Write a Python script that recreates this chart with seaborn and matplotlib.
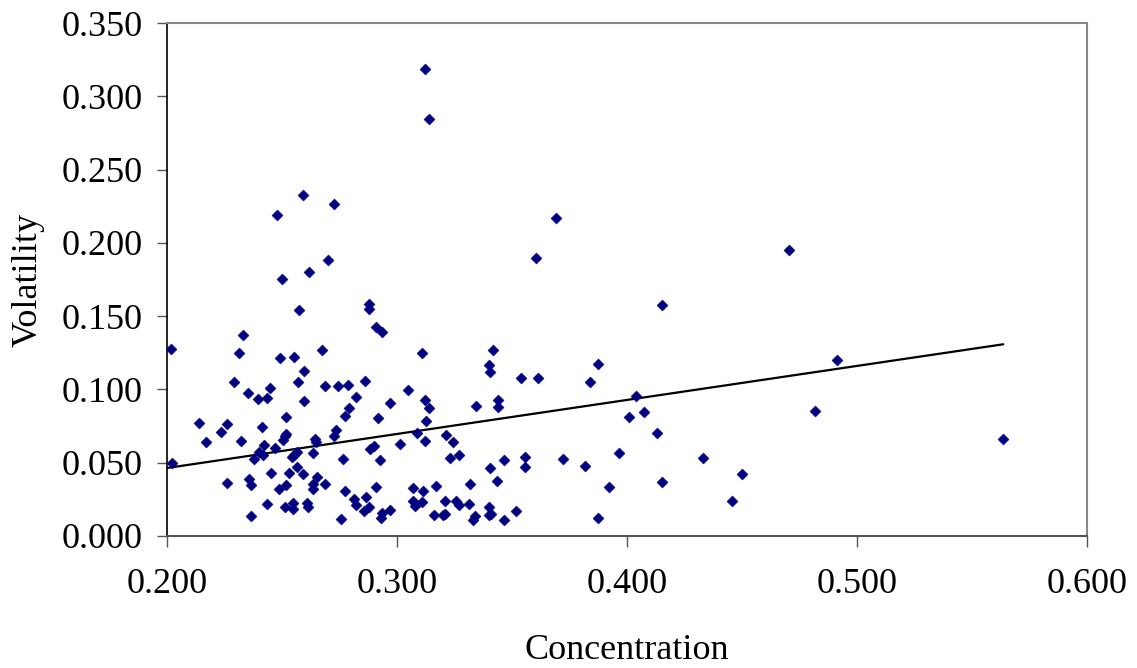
import matplotlib
matplotlib.use("Agg")
import matplotlib.pyplot as plt
import seaborn as sns
import numpy as np
import pandas as pd

# Data
concentration = [
    0.2501, 0.2619, 0.2575, 0.2880, 0.2880, 0.2910, 0.2933, 0.2332, 0.2019, 0.2314,
    0.2674, 0.2491, 0.2553, 0.2597, 0.2291, 0.2568, 0.2686, 0.2745, 0.2787, 0.2860,
    0.3049, 0.2449, 0.2352, 0.2396, 0.2436, 0.2596, 0.2822, 0.2968, 0.2790, 0.2774,
    0.2919, 0.2516, 0.2138, 0.2261, 0.2235, 0.2414, 0.2516, 0.2513, 0.2733, 0.2725,
    0.2171, 0.2320, 0.2503, 0.2645, 0.2647, 0.2423, 0.2468, 0.3014, 0.2399, 0.2416,
    0.2378, 0.2564, 0.2553, 0.2545, 0.2636, 0.2900, 0.2883, 0.2767, 0.2926, 0.2023,
    0.2565, 0.2453, 0.2532, 0.2593, 0.2653, 0.2260, 0.2358, 0.2364, 0.2516, 0.2488,
    0.2635, 0.2636, 0.2686, 0.2774, 0.2909, 0.2814, 0.2867, 0.2820, 0.2436, 0.2514,
    0.2549, 0.2547, 0.2609, 0.2612, 0.2858, 0.2878, 0.2933, 0.2932, 0.2968, 0.2367,
    0.2758,
    0.3109, 0.3419, 0.3399, 0.3406, 0.3539, 0.3614, 0.3874, 0.3840, 0.3123, 0.3138,
    0.3342, 0.3438, 0.3440, 0.3127, 0.4038, 0.4010, 0.4075, 0.3086, 0.3123, 0.3212,
    0.3243, 0.3230, 0.3271, 0.3467, 0.3558, 0.3557, 0.3403, 0.3720, 0.3819, 0.3965,
    0.3435, 0.3068, 0.3168, 0.3113, 0.3070, 0.3078, 0.3109, 0.3210, 0.3255, 0.3271,
    0.3312, 0.3316, 0.3160, 0.3199, 0.3207, 0.3332, 0.3340, 0.3400, 0.3399, 0.3409,
    0.3467, 0.3516, 0.3875, 0.3920,
    0.2593, 0.2478, 0.2727, 0.2701,
    0.3120, 0.3138, 0.3693, 0.3603,
    0.4151, 0.4704, 0.4912, 0.4816, 0.5636, 0.4132, 0.4329, 0.4151, 0.4499, 0.4457,
]
volatility = [
    0.1751, 0.1803, 0.1542, 0.1581, 0.1549, 0.1426, 0.1392, 0.1369, 0.1274, 0.1246,
    0.1267, 0.1214, 0.1221, 0.1128, 0.1053, 0.1053, 0.1021, 0.1021, 0.1028, 0.1058,
    0.0996, 0.1010, 0.0978, 0.0937, 0.0939, 0.0921, 0.0948, 0.0905, 0.0873, 0.0819,
    0.0805, 0.0812, 0.0771, 0.0764, 0.0712, 0.0742, 0.0698, 0.0684, 0.0723, 0.0680,
    0.0641, 0.0648, 0.0653, 0.0660, 0.0641, 0.0621, 0.0600, 0.0630, 0.0571, 0.0551,
    0.0527, 0.0571, 0.0551, 0.0541, 0.0568, 0.0614, 0.0596, 0.0527, 0.0516, 0.0496,
    0.0473, 0.0428, 0.0428, 0.0423, 0.0403, 0.0360, 0.0391, 0.0350, 0.0348, 0.0319,
    0.0357, 0.0321, 0.0357, 0.0305, 0.0334, 0.0250, 0.0268, 0.0209, 0.0216, 0.0200,
    0.0227, 0.0184, 0.0223, 0.0200, 0.0173, 0.0196, 0.0155, 0.0121, 0.0179, 0.0136,
    0.0116,
    0.1251, 0.1271, 0.1167, 0.1117, 0.1080, 0.1080, 0.1171, 0.1049, 0.0926, 0.0873,
    0.0885, 0.0928, 0.0882, 0.0783, 0.0955, 0.0814, 0.0846, 0.0701, 0.0646, 0.0691,
    0.0641, 0.0530, 0.0553, 0.0516, 0.0537, 0.0471, 0.0464, 0.0523, 0.0480, 0.0568,
    0.0375, 0.0325, 0.0343, 0.0305, 0.0237, 0.0205, 0.0230, 0.0241, 0.0239, 0.0214,
    0.0220, 0.0353, 0.0143, 0.0141, 0.0152, 0.0109, 0.0136, 0.0196, 0.0141, 0.0148,
    0.0107, 0.0171, 0.0125, 0.0334,
    0.2324, 0.2192, 0.2267, 0.1883,
    0.3188, 0.2843, 0.2168, 0.1897,
    0.1576, 0.1951, 0.1199, 0.0853, 0.0660, 0.0701, 0.0530, 0.0370, 0.0423, 0.0237,
]
# Trend line as drawn in the reference (end points)
trend_x = [0.2000, 0.5636]
trend_y = [0.0464, 0.1308]

x_ticks = [0.2, 0.3, 0.4, 0.5, 0.6]
y_ticks = [0.0, 0.05, 0.10, 0.15, 0.20, 0.25, 0.30, 0.35]

df = pd.DataFrame({"Concentration": concentration, "Volatility": volatility})
trend = pd.DataFrame({"Concentration": trend_x, "Volatility": trend_y})

sns.set_theme(style="white")
plt.rcParams["font.family"] = ["Liberation Serif", "DejaVu Serif"]

fig = plt.figure(figsize=(11.37, 6.68), dpi=100)
ax = fig.add_axes([167 / 1137, 1 - 536 / 668, (1087 - 167) / 1137, (536 - 23) / 668])

sns.lineplot(data=trend, x="Concentration", y="Volatility", ax=ax,
             color="black", linewidth=1.6, zorder=2)
sns.scatterplot(data=df, x="Concentration", y="Volatility", ax=ax, marker="D",
                s=32, color="#000080", edgecolor="#000080", linewidth=0.3, zorder=3)

ax.set_xlim(0.2, 0.6)
ax.set_ylim(0.0, 0.35)
ax.set_xticks(x_ticks)
ax.set_yticks(y_ticks)
ax.set_xticklabels([f"{v:.3f}" for v in x_ticks])
ax.set_yticklabels([f"{v:.3f}" for v in y_ticks])
ax.tick_params(axis="x", direction="out", length=8, width=1, color="#555555",
               pad=15, labelsize=26, labelcolor="black", bottom=True)
ax.tick_params(axis="y", direction="out", length=7.5, width=1, color="#555555",
               pad=10, labelsize=26, labelcolor="black", left=True)
ax.set_xlabel("Concentration", fontsize=26, labelpad=24, color="black")
ax.set_ylabel("Volatility", fontsize=26, labelpad=12, color="black")

for side in ["top", "right"]:
    ax.spines[side].set_color("#888888")
    ax.spines[side].set_linewidth(1.5)
ax.spines["left"].set_color("#000000")
ax.spines["left"].set_linewidth(1.2)
ax.spines["bottom"].set_color("#555555")
ax.spines["bottom"].set_linewidth(1.5)
ax.grid(False)

fig.savefig("out.png", dpi=100, facecolor="white")
